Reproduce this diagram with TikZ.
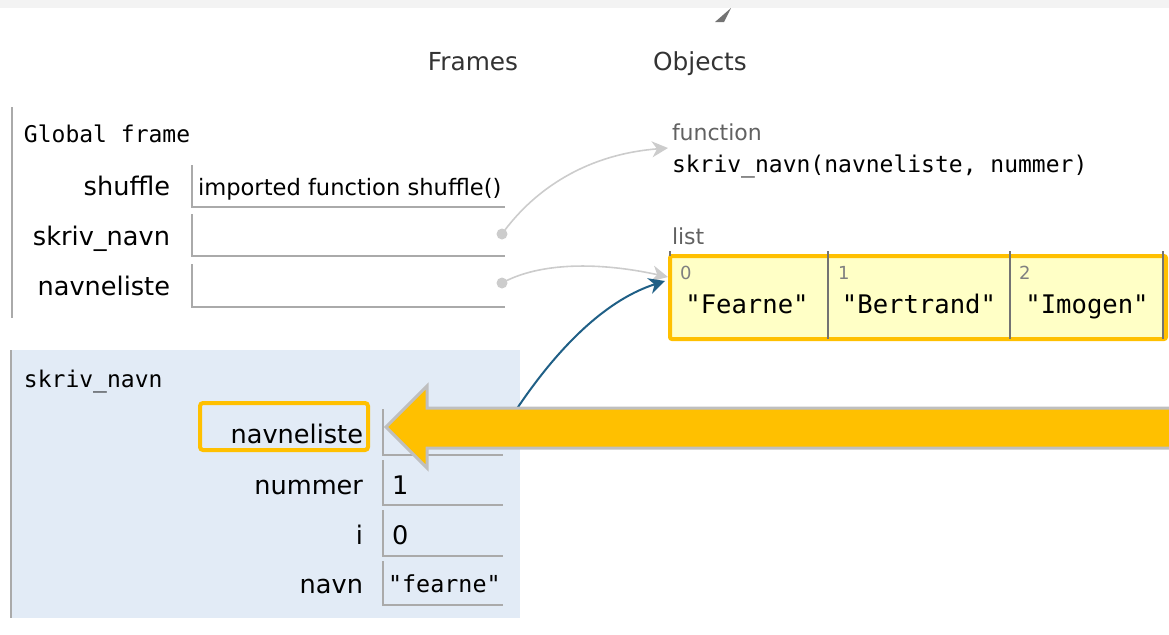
\documentclass[tikz,border=0pt]{standalone}
\usepackage{fontspec}
\setmainfont{DejaVu Sans}
\setmonofont{DejaVu Sans Mono}
\usetikzlibrary{arrows.meta}

\definecolor{framebg}{HTML}{E2EBF6}
\definecolor{listbg}{HTML}{FFFFC6}
\definecolor{hilite}{HTML}{FFC000}
\definecolor{linkblue}{HTML}{1F5F86}
\definecolor{linkgray}{HTML}{CCCCCC}
\definecolor{cellline}{HTML}{AAAAAA}
\definecolor{topbar}{HTML}{F3F3F3}

\begin{document}
\begin{tikzpicture}[x=0.5pt,y=-0.5pt,
        every node/.style={inner sep=0pt,outer sep=0pt},
        varname/.style={anchor=base east,font=\fontsize{12.8}{15}\selectfont},
        varval/.style={anchor=base west,font=\fontsize{12.8}{15}\selectfont},
        heading/.style={anchor=base west,font=\ttfamily\fontsize{11.5}{14}\selectfont},
        graytag/.style={anchor=base west,text=black!62,font=\fontsize{11}{13}\selectfont},
        idx/.style={anchor=base west,text=black!50,font=\fontsize{9}{11}\selectfont},
        elem/.style={anchor=base,font=\ttfamily\fontsize{12.8}{15}\selectfont},
        cell/.style={draw=cellline,line width=1pt},
        dot/.style={circle,fill=linkgray,minimum size=5.5pt},
        pointer/.style={draw=linkgray,line width=0.8pt,-{Stealth[length=8pt,width=8pt,inset=2.5pt]}}]
    \useasboundingbox (0,0) rectangle (1169,634);
    \fill[topbar] (0,0) rectangle (1169,8);
    \fill[black!55] (715,22) -- (724,22) -- (731,8) -- cycle;

    % headings
    \node[anchor=base,text=black!80,font=\fontsize{12.4}{15}\selectfont] (frames) at (473,70) {Frames};
    \node[anchor=base,text=black!80,font=\fontsize{12.4}{15}\selectfont] (objects) at (700,70) {Objects};

    % global frame
    \draw[cellline,line width=1.2pt] (12,107) -- (12,318);
    \node[heading] (global) at (24,142) {Global frame};
    \node[varname] (lbshuffle) at (170,195) {shuffle};
    \node[varname] (lbskriv) at (170,245) {skriv\_navn};
    \node[varname] (lbliste) at (170,295) {navneliste};
    \draw[cell] (192,165) |- (505,207);
    \draw[cell] (192,214) |- (505,256);
    \draw[cell] (192,264) |- (505,307);
    \node[varval,font=\fontsize{11.3}{14}\selectfont] (vshuffle) at (198,195) {imported function shuffle()};
    \node[dot] (pskriv) at (502,234) {};
    \node[dot] (pliste) at (502,283) {};

    % skriv_navn frame
    \fill[framebg] (10,350) rectangle (520,618);
    \draw[cellline,line width=1.2pt] (11,350) -- (11,618);
    \node[heading] (call) at (24,387) {skriv\_navn};
    \node[varname] (lbparam) at (363,443) {navneliste};
    \node[varname] (lbnummer) at (363,494) {nummer};
    \node[varname] (lbi) at (363,544) {i};
    \node[varname] (lbnavn) at (363,593) {navn};
    \draw[cell] (383,409) |- (503,455);
    \draw[cell] (383,460) |- (503,505);
    \draw[cell] (383,510) |- (503,556);
    \draw[cell] (383,561) |- (503,605);
    \node[varval] (vnummer) at (392,494) {1};
    \node[varval] (vi) at (392,544) {0};
    \node[varval,font=\ttfamily\fontsize{11.7}{14}\selectfont] (vnavn) at (388,592) {"fearne"};
    \coordinate (pparam) at (502,432);
    \draw[hilite,line width=2pt,rounded corners=1.5pt] (200,403) rectangle (368,450);

    % objects
    \node[graytag] (tagfn) at (672,140) {function};
    \node[heading] (fn) at (672,172) {skriv\_navn(navneliste, nummer)};
    \node[graytag] (taglist) at (672,244) {list};
    \draw[hilite,fill=listbg,line width=2pt,rounded corners=1pt] (670,256) rectangle (1166,339);
    \draw[black!55,line width=1pt] (670,251) -- (670,256) (828,251) -- (828,339)
        (1010,251) -- (1010,339) (1163,251) -- (1163,339);
    \node[idx] (i0) at (680,279) {0};
    \node[idx] (i1) at (838,279) {1};
    \node[idx] (i2) at (1019,279) {2};
    \node[elem] (e0) at (747,313) {"Fearne"};
    \node[elem] (e1) at (919,313) {"Bertrand"};
    \node[elem] (e2) at (1087,313) {"Imogen"};
    \coordinate (fnin) at (668,148);
    \coordinate (listin) at (668,277);
    \coordinate (listin2) at (665,281);

    % pointers
    \draw[pointer] (pskriv.center) .. controls (530,195) and (580,155) .. (fnin);
    \draw[pointer] (pliste.center) .. controls (540,262) and (600,262) .. (listin);
    \draw[pointer,draw=linkblue,line width=1pt] (pparam) .. controls (535,378) and (590,305) .. (listin2);

    % big arrow
    \draw[fill=hilite,draw=black!25,line width=1.5pt,line join=miter]
        (1185,408) -- (427,408) -- (427,386) -- (386,427) -- (427,468) -- (427,448) -- (1185,448) -- cycle;
\end{tikzpicture}
\end{document}
